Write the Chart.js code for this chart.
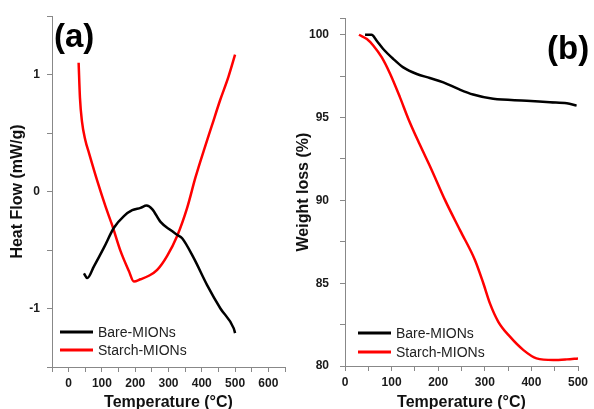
<!DOCTYPE html>
<html>
<head>
<meta charset="utf-8">
<script src="https://cdn.jsdelivr.net/npm/chart.js@4.4.1/dist/chart.umd.min.js"></script>
<style>
  body { margin: 0; background: #fff; }
  #wrap { position: relative; width: 594px; height: 409px; }
  #panelA { position: absolute; left: 0; top: 0; }
  #panelB { position: absolute; left: 290px; top: 0; }
</style>
</head>
<body>
<div id="wrap">
  <canvas id="panelA" width="290" height="409"></canvas>
  <canvas id="panelB" width="304" height="409"></canvas>
</div>
<script>
// (a) DSC heat flow
const bareTempA = [46, 56, 76, 106, 136, 166, 191, 216, 234, 251, 276, 306, 326, 341, 376, 416, 456, 496, 500];
const bareHeatFlow = [-0.70, -0.74, -0.64, -0.48, -0.31, -0.21, -0.16, -0.14, -0.12, -0.15, -0.26, -0.33, -0.37, -0.40, -0.57, -0.80, -1.00, -1.17, -1.21];
const starchTempA = [30, 34, 40, 50, 61, 86, 111, 131, 156, 181, 196, 216, 241, 266, 296, 326, 356, 381, 406, 430, 455, 480, 500];
const starchHeatFlow = [1.10, 0.80, 0.60, 0.44, 0.33, 0.09, -0.13, -0.29, -0.51, -0.68, -0.77, -0.75, -0.72, -0.67, -0.55, -0.38, -0.14, 0.12, 0.35, 0.56, 0.78, 0.98, 1.17];

// (b) TGA weight loss
const bareTempB = [43, 57, 68, 82, 104, 125, 154, 182, 211, 243, 275, 318, 390, 440, 476, 497];
const bareWeight = [100, 100, 99.64, 99.14, 98.53, 98.03, 97.63, 97.39, 97.13, 96.73, 96.39, 96.13, 96.02, 95.92, 95.86, 95.72];
const starchTempB = [30, 47, 61, 79, 97, 118, 136, 160, 185, 215, 247, 279, 297, 311, 329, 354, 383, 411, 447, 476, 500];
const starchWeight = [100, 99.74, 99.34, 98.63, 97.63, 96.22, 94.92, 93.4, 91.9, 90.0, 88.19, 86.39, 84.98, 83.78, 82.67, 81.77, 80.96, 80.46, 80.36, 80.40, 80.46];

const seriesNames = ['Bare-MIONs', 'Starch-MIONs'];
const seriesColors = ['#000000', '#ff0000'];

const axisColor = '#888';
const tickFont = { family: 'Liberation Sans, Arial, sans-serif', size: 12, weight: 'bold' };
const titleFont = { family: 'Liberation Sans, Arial, sans-serif', size: 16, weight: 'bold' };

function toPoints(xs, ys) {
    return xs.map((x, i) => ({ x: x, y: ys[i] }));
}

function makeDataset(i, xs, ys) {
    return {
        label: seriesNames[i],
        data: toPoints(xs, ys),
        borderColor: seriesColors[i],
        backgroundColor: seriesColors[i],
        borderWidth: 2.5,
        pointRadius: 0,
        showLine: true,
        cubicInterpolationMode: 'monotone'
    };
}

// legend drawn inside the plot area, bottom left
const insideLegend = {
    id: 'insideLegend',
    afterDraw(chart, args, opts) {
        const { ctx, chartArea } = chart;
        ctx.save();
        ctx.font = '14px "Liberation Sans", Arial, sans-serif';
        ctx.textBaseline = 'middle';
        chart.data.datasets.forEach((ds, i) => {
            const x = chartArea.left + opts.x;
            const y = chartArea.bottom + opts.y + i * opts.rowGap;
            ctx.strokeStyle = ds.borderColor;
            ctx.lineWidth = 3;
            ctx.beginPath();
            ctx.moveTo(x, y);
            ctx.lineTo(x + 33, y);
            ctx.stroke();
            ctx.fillStyle = '#222';
            ctx.fillText(ds.label, x + 38, y + 1);
        });
        ctx.restore();
    }
};

// big (a)/(b) label
const panelLabel = {
    id: 'panelLabel',
    afterDraw(chart, args, opts) {
        const ctx = chart.ctx;
        ctx.save();
        ctx.font = 'bold 33px "Liberation Sans", Arial, sans-serif';
        ctx.fillStyle = '#000';
        ctx.textBaseline = 'middle';
        ctx.fillText(opts.text, opts.x, opts.y);
        ctx.restore();
    }
};

function axisOpts(min, max, step, labelEvery, lo, hi, fitSize, isX, title, titlePad) {
    return {
        type: 'linear',
        min: min,
        max: max,
        border: { color: axisColor, width: 1 },
        grid: { drawOnChartArea: false, drawTicks: true, tickLength: 5, color: axisColor },
        ticks: {
            stepSize: step,
            autoSkip: false,
            maxRotation: 0,
            color: '#1a1a1a',
            font: tickFont,
            padding: isX ? 4 : titlePad.tick,
            callback: function(v) {
                const r = Math.round(v * 10) / 10;
                return (r % labelEvery === 0 && r >= lo && r <= hi) ? r : '';
            }
        },
        title: {
            display: true,
            text: title,
            color: '#111',
            font: isX ? Object.assign({}, titleFont, { lineHeight: 0.8 }) : titleFont,
            padding: isX ? { top: 0, bottom: 0 } : { top: titlePad.title, bottom: 0 }
        },
        afterFit: function(scale) {
            if (isX) scale.height = fitSize; else scale.width = fitSize;
        }
    };
}

function initPanels() {
    new Chart(document.getElementById('panelA').getContext('2d'), {
        type: 'scatter',
        data: {
            datasets: [
                makeDataset(0, bareTempA, bareHeatFlow),
                makeDataset(1, starchTempA, starchHeatFlow)
            ]
        },
        options: {
            responsive: false,
            animation: false,
            layout: { padding: { top: 16, right: 5, left: 0, bottom: 0 } },
            scales: {
                x: axisOpts(-50, 650, 50, 100, 0, 600, 42, true, 'Temperature (°C)'),
                y: axisOpts(-1.5, 1.5, 0.5, 1, -1, 1, 52, false, 'Heat Flow (mW/g)', { tick: 7, title: 8 })
            },
            plugins: {
                legend: { display: false },
                tooltip: { enabled: false },
                insideLegend: { x: 8, y: -35, rowGap: 18 },
                panelLabel: { text: '(a)', x: 54, y: 38 }
            }
        },
        plugins: [insideLegend, panelLabel]
    });

    new Chart(document.getElementById('panelB').getContext('2d'), {
        type: 'scatter',
        data: {
            datasets: [
                makeDataset(0, bareTempB, bareWeight),
                makeDataset(1, starchTempB, starchWeight)
            ]
        },
        options: {
            responsive: false,
            animation: false,
            layout: { padding: { top: 18, right: 16, left: 0, bottom: 0 } },
            scales: {
                x: axisOpts(0, 500, 50, 100, 0, 500, 43, true, 'Temperature (°C)'),
                y: axisOpts(80, 101, 2.5, 5, 80, 100, 55, false, 'Weight loss (%)', { tick: 11, title: 4 })
            },
            plugins: {
                legend: { display: false },
                tooltip: { enabled: false },
                insideLegend: { x: 13, y: -33, rowGap: 19 },
                panelLabel: { text: '(b)', x: 257, y: 50 }
            }
        },
        plugins: [insideLegend, panelLabel]
    });
}

document.addEventListener('DOMContentLoaded', initPanels);
</script>
</body>
</html>
